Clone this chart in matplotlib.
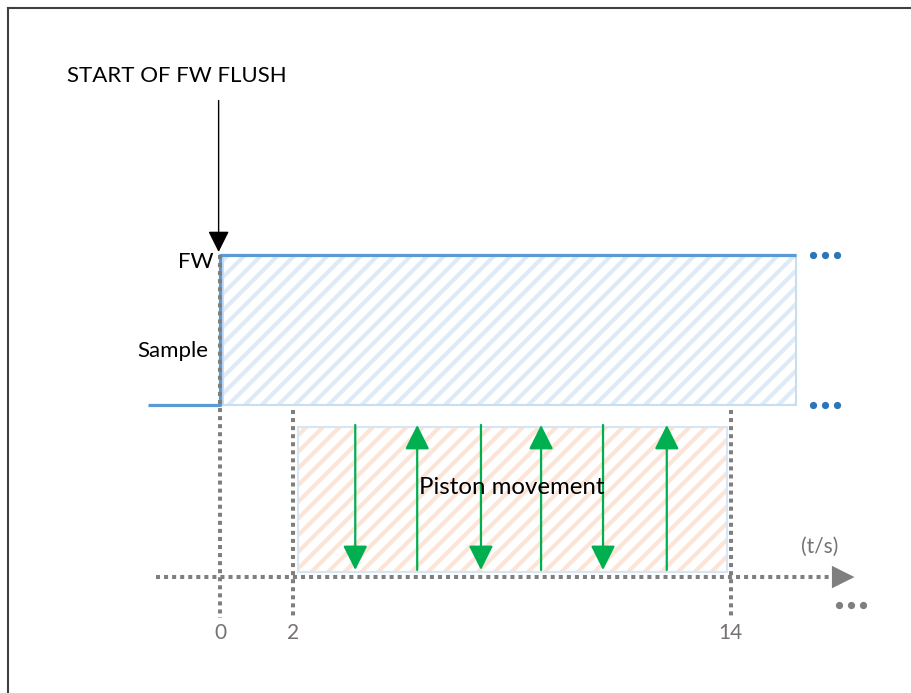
import matplotlib.pyplot as plt
from matplotlib.patches import Rectangle
from matplotlib.lines import Line2D

# signal (time in s, level 0 = Sample, 1 = FW)
signal_t = [-2.0, 0, 0, 15.8]
signal_level = [0, 0, 1, 1]
level_names = ["Sample", "FW"]

tick_times = [0, 2, 14]
tick_labels = ["0", "2", "14"]

piston_window = (2, 14)
piston_t = [3.7, 5.4, 7.15, 8.8, 10.5, 12.25]
piston_dir = [-1, 1, -1, 1, -1, 1]

BLUE = "#5B9BD5"
DARKBLUE = "#2E75B6"
GREY = "#7F7F7F"
GREEN = "#00B050"

plt.rcParams['font.family'] = ['Lato', 'DejaVu Sans']
plt.rcParams['hatch.linewidth'] = 3.0

fig = plt.figure(figsize=(9.12, 6.93), dpi=100)
ax = fig.add_axes([0, 0, 1, 1])
ax.set_xlim(-6.05, 18.98)
ax.set_ylim(-1.92, 2.70)
ax.axis("off")

# frame (top and left only)
fig.add_artist(Line2D([8 / 912, 1], [1 - 8 / 693, 1 - 8 / 693], color="#404040", lw=1.5))
fig.add_artist(Line2D([8 / 912, 8 / 912], [0, 1 - 8 / 693], color="#404040", lw=1.5))

# FW flush area
ax.add_patch(Rectangle((0.08, 0), signal_t[-1] - 0.08, 1, facecolor="white",
                       edgecolor="#DEEBF7", hatch="//", lw=0))
ax.add_patch(Rectangle((0.08, 0), signal_t[-1] - 0.08, 1, fill=False,
                       edgecolor="#C9DDF1", lw=1.5))

# piston area
p0, p1 = piston_window
ax.add_patch(Rectangle((p0 + 0.12, -1.113), p1 - p0 - 0.22, 0.966, facecolor="white",
                       edgecolor="#FCE4D6", hatch="//", lw=0))
ax.add_patch(Rectangle((p0 + 0.12, -1.113), p1 - p0 - 0.22, 0.966, fill=False,
                       edgecolor="#D6E6F5", lw=1.5))

# signal line
ax.plot(signal_t, signal_level, color=BLUE, lw=2.3, solid_capstyle="butt")

# dotted guides
dot = dict(color=GREY, lw=2.9, ls=(0, (1, 1)), dash_capstyle="butt", zorder=3)
ax.plot([0, 0], [1, -1.42], **dot)
for t in tick_times[1:]:
    ax.plot([t, t], [-0.03, -1.42], **dot)
ax.plot([-1.76, 16.9], [-1.147, -1.147], **dot)
ax.annotate("", xy=(17.4, -1.147), xytext=(16.9, -1.147),
            arrowprops=dict(arrowstyle="-|>,head_length=0.9,head_width=0.45",
                            color=GREY, lw=0, mutation_scale=18, shrinkA=0, shrinkB=0))

# continuation dots
for lvl in signal_level[-1:] + signal_level[:1]:
    ax.plot([16.25, 16.58, 16.91], [lvl] * 3, ls="none", marker="o", ms=4.2, color=DARKBLUE)
ax.plot([16.97, 17.3, 17.63], [-1.333] * 3, ls="none", marker="o", ms=4.2, color=GREY)

# piston arrows
for t, d in zip(piston_t, piston_dir):
    top, bot = -0.133, -1.10
    tail, tip = (bot, top) if d > 0 else (top, bot)
    ax.annotate("", xy=(t, tip), xytext=(t, tail),
                arrowprops=dict(arrowstyle="-|>,head_length=1.0,head_width=0.5",
                                color=GREEN, lw=1.6, mutation_scale=15,
                                shrinkA=0, shrinkB=0))

# start arrow
ax.annotate("", xy=(-0.05, 1.02), xytext=(-0.05, 2.03),
            arrowprops=dict(arrowstyle="-|>,head_length=1.0,head_width=0.5",
                            color="black", lw=1.0, mutation_scale=13,
                            shrinkA=0, shrinkB=0))

# texts
ax.text(-4.2, 2.19, "START OF FW FLUSH", fontsize=16, va="center", ha="left")
ax.text(-0.2, 0.953, level_names[1], fontsize=16, va="center", ha="right")
ax.text(-0.33, 0.36, level_names[0], fontsize=16, va="center", ha="right")
ax.text(8.0, -0.547, "Piston movement", fontsize=17.3, va="center", ha="center")
ax.text(16.44, -0.947, "(t/s)", fontsize=15, va="center", ha="center", color="#767171")
for t, lab in zip(tick_times, tick_labels):
    ax.text(t, -1.52, lab, fontsize=15, va="center", ha="center", color="#767171")

fig.savefig("out.png", dpi=100)
